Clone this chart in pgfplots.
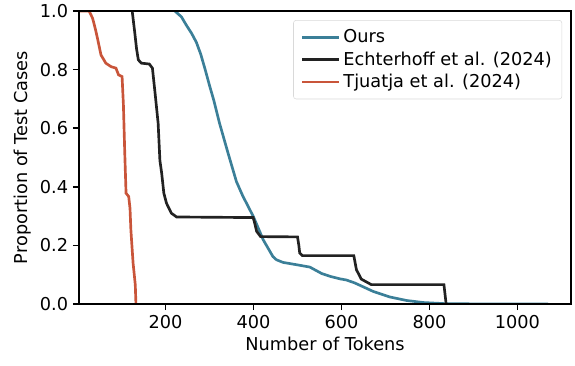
\documentclass[border=0pt]{standalone}
\usepackage{pgfplots}
\pgfplotsset{compat=1.18}
\usepackage{fontspec}
\setmainfont{DejaVu Sans}
\usetikzlibrary{calc}
\definecolor{ours}{RGB}{59,127,152}
\definecolor{echt}{RGB}{34,34,34}
\definecolor{tjua}{RGB}{201,85,58}
\newcommand\ff{\fontsize{13.3pt}{16pt}\selectfont}
\begin{document}
\begin{tikzpicture}[font=\ff]
\begin{axis}[
  scale only axis,
  width=369pt, height=219.75pt,
  xmin=3, xmax=1122, ymin=0, ymax=1,
  xtick={200,400,600,800,1000},
  ytick={0,0.2,0.4,0.6,0.8,1.0},
  xtick pos=bottom, ytick pos=left,
  tick align=outside,
  major tick length=4.67pt,
  every tick/.style={black, line width=1.07pt},
  axis line style={black, line width=1.07pt},
  axis on top,
  scaled ticks=false,
  tick label style={font=\ff},
  label style={font=\ff},
  /pgf/number format/assume math mode=true,
  xticklabel style={/pgf/number format/1000 sep={}},
  yticklabel style={/pgf/number format/.cd, fixed, fixed zerofill, precision=1},
  xlabel={Number of Tokens},
  ylabel={Proportion of Test Cases},
  legend cell align=left,
  legend image code/.code={\draw[#1, line width=2pt] (0pt,0pt) -- (28pt,0pt);},
  legend style={font=\ff, at={(0.982,0.969)}, anchor=north east, draw=black!15, rounded corners=2pt,
    fill=white, fill opacity=0.8, text opacity=1, row sep=1.2pt, inner xsep=5.5pt, inner ysep=5pt},
]
\addplot[ours, line width=2pt] coordinates {
(221,1.0)(236,0.98)(247,0.952)(259,0.924)(270,0.893)(280,0.852)(290,0.80)(300,0.745)
(310,0.693)(323,0.615)(342,0.515)(361,0.418)(376,0.367)(384,0.344)(400,0.297)
(422,0.219)(444,0.162)(452,0.151)(467,0.142)(498,0.134)(528,0.126)(555,0.104)(575,0.094)
(596,0.086)(611,0.082)(630,0.072)(672,0.043)(710,0.024)(748,0.012)(786,0.005)(838,0.001)
(900,0.0005)(1070,0.0)
};
\addlegendentry{Ours}
\addplot[echt, line width=2pt] coordinates {
(124,1.0)(130,0.924)(134,0.87)(138,0.833)(145,0.822)(163,0.819)(170,0.805)(176,0.72)
(183,0.617)(187,0.49)(191,0.447)(196,0.378)(202,0.344)(213,0.31)(225,0.297)(399,0.295)
(402,0.28)(407,0.248)(416,0.23)(500,0.229)(503,0.2)(505,0.174)(511,0.165)(628,0.165)
(634,0.117)(645,0.085)(668,0.066)(833,0.066)(838,0.0)
};
\addlegendentry{Echterhoff et al. (2024)}
\addplot[tjua, line width=2pt] coordinates {
(3,1.0)(26,1.0)(34,0.975)(40,0.94)(45,0.907)(53,0.85)(64,0.822)(76,0.81)(87,0.805)
(93,0.782)(101,0.776)(104,0.68)(107,0.52)(110,0.378)(116,0.367)(119,0.327)(121,0.253)
(126,0.14)(131,0.066)(132.5,0.0)
};
\addlegendentry{Tjuatja et al. (2024)}
\coordinate (bl) at (rel axis cs:0,0);
\coordinate (tr) at (rel axis cs:1,1);
\end{axis}
\pgfresetboundingbox
\path[use as bounding box] ($(bl)+(-59.25pt,-45.75pt)$) rectangle ($(tr)+(3pt,8.25pt)$);
\end{tikzpicture}
\end{document}
